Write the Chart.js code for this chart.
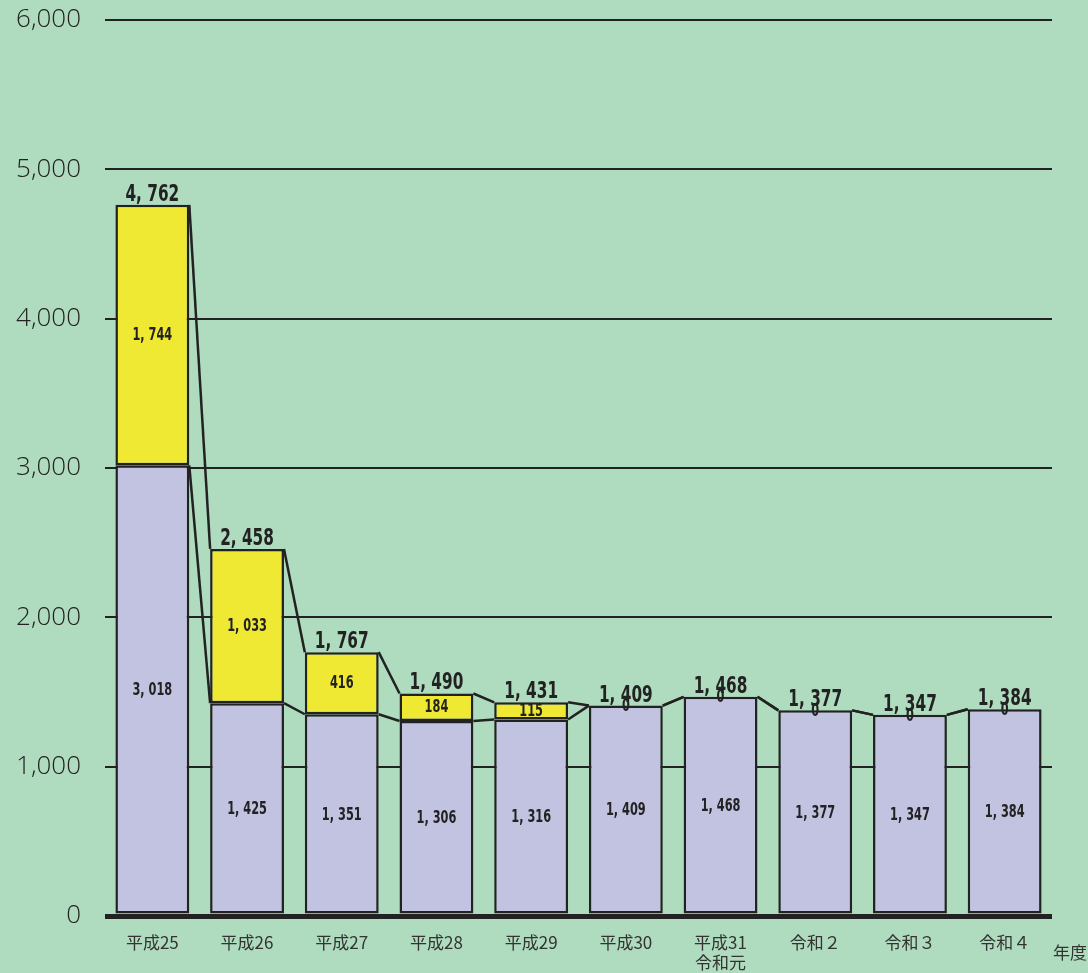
<!DOCTYPE html>
<html><head><meta charset="utf-8">
<script src="https://cdn.jsdelivr.net/npm/chart.js@4/dist/chart.umd.min.js"></script>
<style>
html,body{margin:0;padding:0;background:#afdbbf;}
#wrap{position:relative;width:1088px;height:973px;}
</style></head>
<body><div id="wrap"><canvas id="c" width="1088" height="973"></canvas></div>
<script>
const categories = [['平成25'],['平成26'],['平成27'],['平成28'],['平成29'],['平成30'],['平成31','令和元'],['令和２'],['令和３'],['令和４']];
const baseValues = [3018, 1425, 1351, 1306, 1316, 1409, 1468, 1377, 1347, 1384];
const addedValues = [1744, 1033, 416, 184, 115, 0, 0, 0, 0, 0];
const yTicks = [0, 1000, 2000, 3000, 4000, 5000, 6000];
const unitLabel = '年度';

const LABEL_FONT = '"DejaVu Sans Condensed","Liberation Sans Narrow","Noto Sans CJK JP",sans-serif';
const fmt = v => v.toLocaleString('en-US').replace(/,/g, ', ');

function narrowText(ctx, text, x, y, size, sx) {
  ctx.save();
  ctx.translate(x, y);
  ctx.scale(sx, 1);
  ctx.font = 'bold ' + size + 'px ' + LABEL_FONT;
  ctx.fillText(text, 0, 0);
  ctx.restore();
}

const overlay = {
  id: 'overlay',
  afterDatasetsDraw(chart) {
    const ctx = chart.ctx;
    const y = chart.scales.y;
    const m0 = chart.getDatasetMeta(0);
    ctx.save();
    ctx.strokeStyle = '#222';
    ctx.lineWidth = 2.5;
    for (let i = 0; i < baseValues.length - 1; i++) {
      const a = m0.data[i], b = m0.data[i + 1];
      const xr = a.x + a.width / 2, xl = b.x - b.width / 2;
      const t1 = baseValues[i] + addedValues[i], t2 = baseValues[i + 1] + addedValues[i + 1];
      ctx.beginPath();
      ctx.moveTo(xr, y.getPixelForValue(t1)); ctx.lineTo(xl, y.getPixelForValue(t2));
      ctx.stroke();
      ctx.beginPath();
      ctx.moveTo(xr, y.getPixelForValue(baseValues[i])); ctx.lineTo(xl, y.getPixelForValue(baseValues[i + 1]));
      ctx.stroke();
    }
    ctx.fillStyle = '#222';
    ctx.textAlign = 'center';
    for (let i = 0; i < baseValues.length; i++) {
      const x = m0.data[i].x;
      ctx.textBaseline = 'middle';
      narrowText(ctx, fmt(baseValues[i]), x, y.getPixelForValue(baseValues[i] / 2), 18, 0.7);
      narrowText(ctx, fmt(addedValues[i]), x, y.getPixelForValue(baseValues[i] + addedValues[i] / 2) + (addedValues[i] === 0 ? 1 : 0), 18, 0.7);
      ctx.textBaseline = 'alphabetic';
      narrowText(ctx, fmt(baseValues[i] + addedValues[i]), x, y.getPixelForValue(baseValues[i] + addedValues[i]) - 4, 23, 0.74);
    }
    ctx.font = '17px "Noto Sans CJK JP",sans-serif';
    ctx.fillStyle = '#333';
    ctx.textAlign = 'left';
    ctx.textBaseline = 'middle';
    ctx.fillText(unitLabel, 1053, 953);
    ctx.restore();
  }
};

new Chart(document.getElementById('c'), {
  type: 'bar',
  data: {
    labels: categories,
    datasets: [
      { data: baseValues, backgroundColor: '#c2c3e1', borderColor: '#222', borderWidth: 2.5, borderSkipped: false },
      { data: addedValues, backgroundColor: '#f0e934', borderColor: '#222',
        borderWidth: c => (addedValues[c.dataIndex] === 0 ? 0 : 2.5), borderSkipped: false }
    ]
  },
  options: {
    responsive: false,
    animation: false,
    plugins: { legend: { display: false }, tooltip: { enabled: false } },
    layout: { padding: { top: 20, right: 36, left: 0, bottom: 0 } },
    datasets: { bar: { categoryPercentage: 0.78, barPercentage: 1 } },
    scales: {
      x: {
        stacked: true,
        grid: { display: false },
        border: { display: false },
        ticks: { color: '#333', font: { family: '"Noto Sans CJK JP",sans-serif', size: 17, lineHeight: 1.2 }, padding: 8, maxRotation: 0, autoSkip: false },
        afterFit: s => { s.height = 57; }
      },
      y: {
        stacked: true,
        min: 0, max: 6000,
        afterBuildTicks: s => { s.ticks = yTicks.map(v => ({ value: v })); },
        grid: { color: '#222', lineWidth: c => (c.tick && c.tick.value === 0 ? 5 : 2), drawTicks: false },
        border: { display: false },
        ticks: { color: '#222', padding: 24, font: { family: '"Open Sans",sans-serif', size: 26, weight: '300' },
                 callback: v => v.toLocaleString('en-US') },
        afterFit: s => { s.width = 105; s.paddingTop = 0; s.paddingBottom = 0; }
      }
    }
  },
  plugins: [overlay, {
    id: 'bg',
    beforeDraw(chart) { const c = chart.ctx; c.save(); c.fillStyle = '#afdbbf'; c.fillRect(0, 0, chart.width, chart.height); c.restore(); }
  }]
});
</script></body></html>
